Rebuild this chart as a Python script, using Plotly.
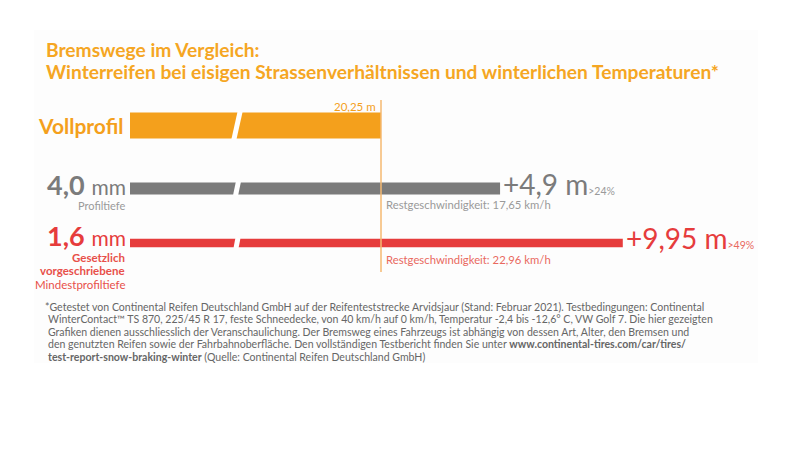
import plotly.graph_objects as go

# braking distances on icy roads (m)
rows = ["Vollprofil", "4,0 mm", "1,6 mm"]
distances = [20.25, 25.15, 30.20]
extra_m = [4.9, 9.95]
rest_speed = [17.65, 22.96]

ORANGE = "#F4A01C"
GRAY = "#7B7B7B"
RED = "#E63C3C"
colors = [ORANGE, GRAY, RED]

FONT = "Lato"

# layout helpers: y axis is in screen pixels, x axis in metres
OFF = 8  # page margin around the figure
row_y = [125.5, 188.5, 243]
bar_h = [26, 12, 8.5]
PLOT_L = 130
PX_PER_M = 24.3
REF_PX = 381
ref = distances[0]
x_lo = ref - (REF_PX - PLOT_L) / PX_PER_M
x_hi = ref + (800 + OFF - REF_PX) / PX_PER_M
BREAK_AT = ref - (REF_PX - 237) / PX_PER_M


def px(xpix):
    return (xpix - PLOT_L) / (800 + OFF - PLOT_L)


def de(v, nd):
    return f"{v:.{nd}f}".replace(".", ",")


fig = go.Figure(go.Bar(
    x=distances, y=row_y, width=bar_h, orientation="h",
    marker=dict(color=colors, line=dict(width=0)),
    cliponaxis=True, hoverinfo="skip",
))

shapes = [
    # faint panel
    dict(type="rect", xref="paper", yref="y", x0=px(34), x1=px(758), y0=30, y1=363,
         fillcolor="#FDFDFD", line=dict(width=0), layer="below"),
    # reference line at full-profile distance
    dict(type="line", xref="x", yref="y", x0=ref, x1=ref, y0=100, y1=272,
         line=dict(color="#F5B870", width=1.5)),
]
# axis break marks
for y, h in zip(row_y, bar_h):
    dx = 0.12 * h / PX_PER_M
    shapes.append(dict(type="line", xref="x", yref="y",
                       x0=BREAK_AT - dx, x1=BREAK_AT + dx, y0=y + h / 2 + 1, y1=y - h / 2 - 1,
                       line=dict(color="white", width=5)))

ann = []
title_lines = ["Bremswege im Vergleich:",
               "Winterreifen bei eisigen Strassenverhältnissen und winterlichen Temperaturen*"]
for t, ty in zip(title_lines, [49, 71]):
    ann.append(dict(xref="paper", yref="y", x=px(44), y=ty, xanchor="left", yanchor="middle",
                    text="<b>" + t + "</b>", showarrow=False,
                    font=dict(family=FONT, size=19.2, color="#F5A623")))

ann.append(dict(xref="x", yref="y", x=ref, y=106, xanchor="right", yanchor="middle", xshift=-3,
                text=de(ref, 2) + " m", showarrow=False,
                font=dict(family=FONT, size=11.5, color=ORANGE)))

ann.append(dict(xref="paper", yref="y", x=0, y=row_y[0], xanchor="right", yanchor="middle", xshift=-4,
                text="<b>" + rows[0] + "</b>", showarrow=False,
                font=dict(family=FONT, size=21, color=ORANGE)))

ann.append(dict(xref="paper", yref="y", x=0, y=184, xanchor="right", yanchor="middle", xshift=-2,
                text="<b>4,0</b> <span style='font-size:21px'>mm</span>", showarrow=False,
                font=dict(family=FONT, size=27, color=GRAY)))
ann.append(dict(xref="paper", yref="y", x=0, y=205, xanchor="right", yanchor="middle", xshift=-3,
                text="Profiltiefe", showarrow=False,
                font=dict(family=FONT, size=11, color="#9A9A9A")))

ann.append(dict(xref="paper", yref="y", x=0, y=235, xanchor="right", yanchor="middle", xshift=-2,
                text="<b>1,6</b> <span style='font-size:21px'>mm</span>", showarrow=False,
                font=dict(family=FONT, size=27, color=RED)))
sub_lines = ["<b>Gesetzlich</b>", "<b>vorgeschriebene</b>", "Mindestprofiltiefe"]
for t, ty in zip(sub_lines, [257.5, 270.5, 284]):
    ann.append(dict(xref="paper", yref="y", x=0, y=ty, xanchor="right", yanchor="middle", xshift=-3,
                    text=t, showarrow=False, font=dict(family=FONT, size=11.5, color="#E8504A")))

for i, (d, e, v) in enumerate(zip(distances[1:], extra_m, rest_speed)):
    col = [GRAY, RED][i]
    light = ["#9A9A9A", "#E9695F"][i]
    pct = int(e / ref * 100)
    ann.append(dict(xref="x", yref="y", x=d, y=row_y[i + 1] - 5, xanchor="left", yanchor="middle", xshift=1,
                    text=f"+{de(e, 2 if i else 1)} m<span style='font-size:10.5px;fill:{light}'>&gt;{pct}%</span>",
                    showarrow=False, font=dict(family=FONT, size=28, color=col)))
    ann.append(dict(xref="x", yref="y", x=ref, y=row_y[i + 1] + 16, xanchor="left", yanchor="middle", xshift=3,
                    text=f"Restgeschwindigkeit: {de(v, 2)} km/h", showarrow=False,
                    font=dict(family=FONT, size=11.3, color=light)))

foot = ["*Getestet von Continental Reifen Deutschland GmbH auf der Reifenteststrecke Arvidsjaur (Stand: Februar 2021). Testbedingungen: Continental",
        "WinterContact™ TS 870, 225/45 R 17, feste Schneedecke, von 40 km/h auf 0 km/h, Temperatur -2,4 bis -12,6° C, VW Golf 7. Die hier gezeigten",
        "Grafiken dienen ausschliesslich der Veranschaulichung. Der Bremsweg eines Fahrzeugs ist abhängig von dessen Art, Alter, den Bremsen und",
        "den genutzten Reifen sowie der Fahrbahnoberfläche. Den vollständigen Testbericht finden Sie unter <b>www.continental-tires.com/car/tires/</b>",
        "<b>test-report-snow-braking-winter</b> (Quelle: Continental Reifen Deutschland GmbH)"]
for j, t in enumerate(foot):
    ann.append(dict(xref="paper", yref="y", x=px(43 if j == 0 else 46), y=306.5 + 12.6 * j,
                    xanchor="left", yanchor="middle", text=t, showarrow=False,
                    font=dict(family=FONT, size=10.55, color="#666666")))

fig.update_layout(
    width=800, height=450,
    margin=dict(l=PLOT_L - OFF, r=0, t=0, b=0),
    paper_bgcolor="white", plot_bgcolor="rgba(0,0,0,0)",
    showlegend=False,
    xaxis=dict(range=[x_lo, x_hi], visible=False, fixedrange=True),
    yaxis=dict(range=[450 + OFF, OFF], visible=False, fixedrange=True),
    shapes=shapes, annotations=ann,
)

fig.write_html("out.html")
